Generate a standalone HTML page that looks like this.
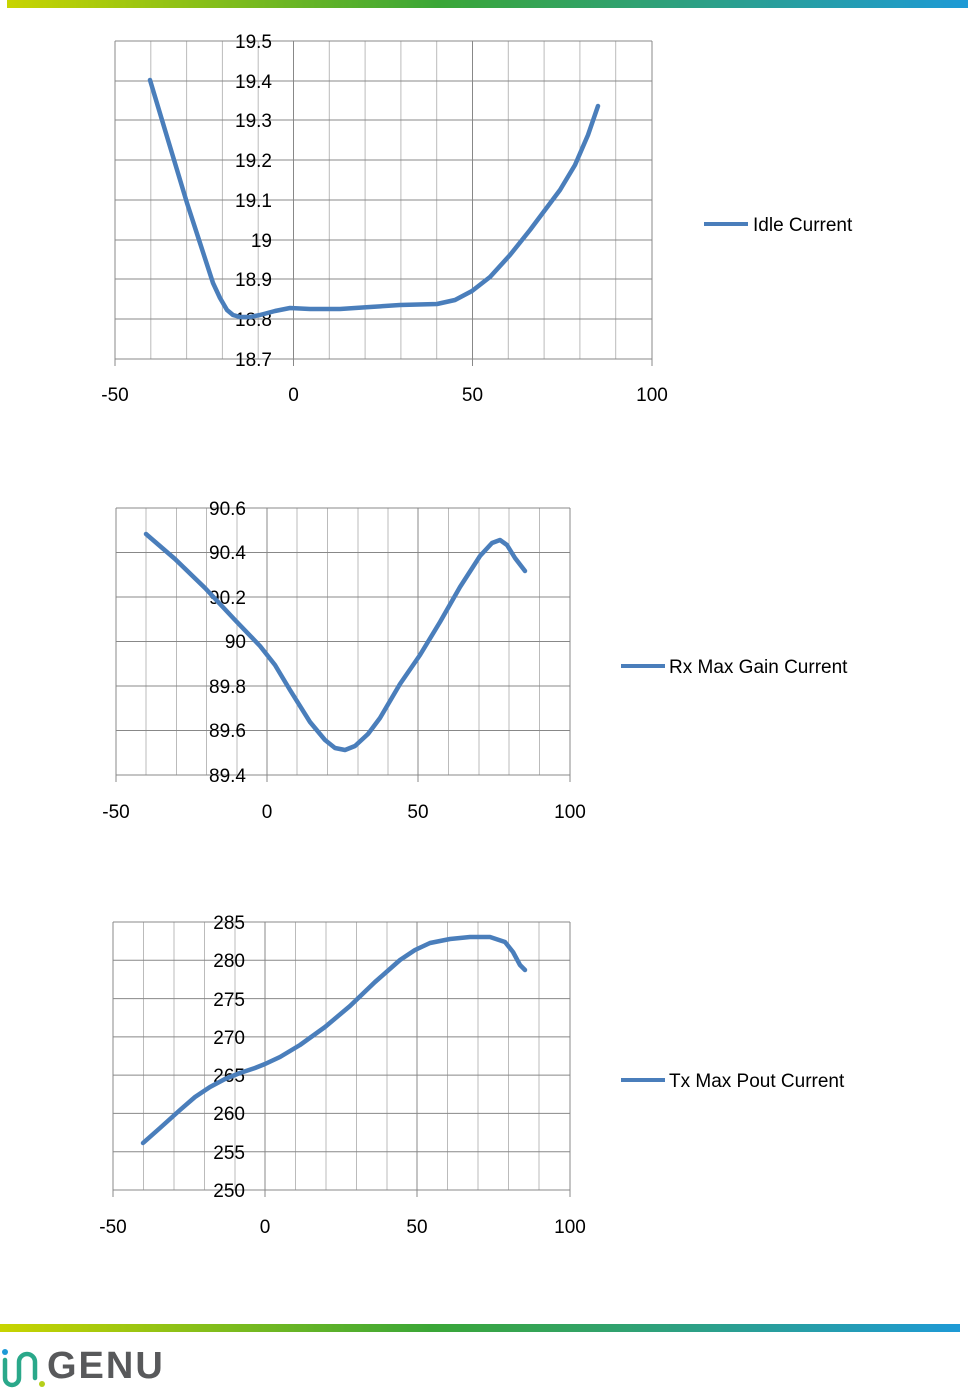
<!DOCTYPE html>
<html><head><meta charset="utf-8"><style>
html,body{margin:0;padding:0;background:#fff;width:973px;height:1388px;overflow:hidden}
svg{display:block}
text{font-family:"Liberation Sans",sans-serif;font-size:19px;fill:#000}
</style></head><body>
<svg width="973" height="1388" viewBox="0 0 973 1388">
<defs>
<linearGradient id="g" x1="0" x2="1" y1="0" y2="0">
<stop offset="0" stop-color="#c8d400"/><stop offset="0.45" stop-color="#3aa637"/><stop offset="1" stop-color="#1e9ad6"/>
</linearGradient>
<linearGradient id="g2" x1="0" x2="1" y1="0" y2="0">
<stop offset="0" stop-color="#c8d400"/><stop offset="0.45" stop-color="#3aa637"/><stop offset="1" stop-color="#1e9ad6"/>
</linearGradient>
</defs>
<rect x="7" y="0" width="961" height="8" fill="url(#g)"/>
<rect x="0" y="1324" width="960" height="8" fill="url(#g2)"/>

<!-- Chart 1 -->
<g stroke="#bbb" stroke-width="1">
<line x1="150.8" y1="41" x2="150.8" y2="359"/><line x1="186.6" y1="41" x2="186.6" y2="359"/><line x1="222.4" y1="41" x2="222.4" y2="359"/><line x1="258.2" y1="41" x2="258.2" y2="359"/>
<line x1="329.3" y1="41" x2="329.3" y2="359"/><line x1="365.1" y1="41" x2="365.1" y2="359"/><line x1="400.9" y1="41" x2="400.9" y2="359"/><line x1="436.7" y1="41" x2="436.7" y2="359"/>
<line x1="508.3" y1="41" x2="508.3" y2="359"/><line x1="544.1" y1="41" x2="544.1" y2="359"/><line x1="579.9" y1="41" x2="579.9" y2="359"/><line x1="615.7" y1="41" x2="615.7" y2="359"/>
</g>
<g stroke="#888" stroke-width="1">
<line x1="115" y1="41" x2="652" y2="41"/><line x1="115" y1="81" x2="652" y2="81"/><line x1="115" y1="120" x2="652" y2="120"/><line x1="115" y1="160" x2="652" y2="160"/><line x1="115" y1="200" x2="652" y2="200"/><line x1="115" y1="240" x2="652" y2="240"/><line x1="115" y1="279" x2="652" y2="279"/><line x1="115" y1="319" x2="652" y2="319"/><line x1="115" y1="359" x2="652" y2="359"/>
<line x1="115" y1="41" x2="115" y2="366"/><line x1="293.5" y1="41" x2="293.5" y2="366"/><line x1="472.5" y1="41" x2="472.5" y2="366"/><line x1="652" y1="41" x2="652" y2="366"/>
</g>
<g text-anchor="end">
<text x="272" y="48">19.5</text><text x="272" y="88">19.4</text><text x="272" y="127">19.3</text><text x="272" y="167">19.2</text><text x="272" y="207">19.1</text><text x="272" y="247">19</text><text x="272" y="286">18.9</text><text x="272" y="326">18.8</text><text x="272" y="366">18.7</text>
</g>
<g text-anchor="middle"><text x="115" y="401">-50</text><text x="293.5" y="401">0</text><text x="472.5" y="401">50</text><text x="652" y="401">100</text></g>
<polyline fill="none" stroke="#4a7ebb" stroke-width="4.5" stroke-linejoin="round" stroke-linecap="round" points="150,80 165,130 187,203 200,243 213,283 220,298 227,310 233,315 240,317 250,317 260,315 275,311 290,308 310,309 340,309 370,307 400,305 437,304 455,300 472,291 490,277 510,255 530,230 545,210 560,190 575,165 588,135 598,106"/>
<line x1="704" y1="224" x2="748" y2="224" stroke="#4a7ebb" stroke-width="4"/>
<text x="753" y="231">Idle Current</text>

<!-- Chart 2 -->
<g stroke="#bbb" stroke-width="1">
<line x1="146" y1="508" x2="146" y2="775"/><line x1="176.5" y1="508" x2="176.5" y2="775"/><line x1="206.5" y1="508" x2="206.5" y2="775"/><line x1="237" y1="508" x2="237" y2="775"/>
<line x1="297" y1="508" x2="297" y2="775"/><line x1="327.5" y1="508" x2="327.5" y2="775"/><line x1="358" y1="508" x2="358" y2="775"/><line x1="388" y1="508" x2="388" y2="775"/>
<line x1="448.5" y1="508" x2="448.5" y2="775"/><line x1="479" y1="508" x2="479" y2="775"/><line x1="509" y1="508" x2="509" y2="775"/><line x1="539.5" y1="508" x2="539.5" y2="775"/>
</g>
<g stroke="#888" stroke-width="1">
<line x1="116" y1="508" x2="570" y2="508"/><line x1="116" y1="552.5" x2="570" y2="552.5"/><line x1="116" y1="597" x2="570" y2="597"/><line x1="116" y1="641.5" x2="570" y2="641.5"/><line x1="116" y1="686" x2="570" y2="686"/><line x1="116" y1="730.5" x2="570" y2="730.5"/><line x1="116" y1="775" x2="570" y2="775"/>
<line x1="116" y1="508" x2="116" y2="782"/><line x1="267" y1="508" x2="267" y2="782"/><line x1="418" y1="508" x2="418" y2="782"/><line x1="570" y1="508" x2="570" y2="782"/>
</g>
<g text-anchor="end">
<text x="246" y="515">90.6</text><text x="246" y="559">90.4</text><text x="246" y="604">90.2</text><text x="246" y="648">90</text><text x="246" y="693">89.8</text><text x="246" y="737">89.6</text><text x="246" y="782">89.4</text>
</g>
<g text-anchor="middle"><text x="116" y="818">-50</text><text x="267" y="818">0</text><text x="418" y="818">50</text><text x="570" y="818">100</text></g>
<polyline fill="none" stroke="#4a7ebb" stroke-width="4.5" stroke-linejoin="round" stroke-linecap="round" points="146,534 175,559 205,588 235,620 260,646 275,665 290,690 310,722 325,740 335,748 345,750 355,746 368,734 380,718 400,684 420,655 440,622 460,587 480,556 492,543 500,540 507,545 515,558 525,571"/>
<line x1="621" y1="666" x2="665" y2="666" stroke="#4a7ebb" stroke-width="4"/>
<text x="669" y="673">Rx Max Gain Current</text>

<!-- Chart 3 -->
<g stroke="#bbb" stroke-width="1">
<line x1="143.5" y1="922" x2="143.5" y2="1190"/><line x1="174" y1="922" x2="174" y2="1190"/><line x1="204.5" y1="922" x2="204.5" y2="1190"/><line x1="235" y1="922" x2="235" y2="1190"/>
<line x1="295.5" y1="922" x2="295.5" y2="1190"/><line x1="326" y1="922" x2="326" y2="1190"/><line x1="356.5" y1="922" x2="356.5" y2="1190"/><line x1="387" y1="922" x2="387" y2="1190"/>
<line x1="447.5" y1="922" x2="447.5" y2="1190"/><line x1="478" y1="922" x2="478" y2="1190"/><line x1="508.5" y1="922" x2="508.5" y2="1190"/><line x1="539" y1="922" x2="539" y2="1190"/>
</g>
<g stroke="#888" stroke-width="1">
<line x1="113" y1="922" x2="570" y2="922"/><line x1="113" y1="960.3" x2="570" y2="960.3"/><line x1="113" y1="998.6" x2="570" y2="998.6"/><line x1="113" y1="1036.9" x2="570" y2="1036.9"/><line x1="113" y1="1075.1" x2="570" y2="1075.1"/><line x1="113" y1="1113.4" x2="570" y2="1113.4"/><line x1="113" y1="1151.7" x2="570" y2="1151.7"/><line x1="113" y1="1190" x2="570" y2="1190"/>
<line x1="113" y1="922" x2="113" y2="1197"/><line x1="265" y1="922" x2="265" y2="1197"/><line x1="417" y1="922" x2="417" y2="1197"/><line x1="570" y1="922" x2="570" y2="1197"/>
</g>
<g text-anchor="end">
<text x="245" y="929">285</text><text x="245" y="967">280</text><text x="245" y="1006">275</text><text x="245" y="1044">270</text><text x="245" y="1082">265</text><text x="245" y="1120">260</text><text x="245" y="1159">255</text><text x="245" y="1197">250</text>
</g>
<g text-anchor="middle"><text x="113" y="1233">-50</text><text x="265" y="1233">0</text><text x="417" y="1233">50</text><text x="570" y="1233">100</text></g>
<polyline fill="none" stroke="#4a7ebb" stroke-width="4.5" stroke-linejoin="round" stroke-linecap="round" points="143,1143 160,1128 180,1110 195,1097 210,1087 225,1079 240,1073 255,1068 265,1064 280,1057 300,1045 325,1027 350,1006 375,982 400,960 415,950 430,943 450,939 470,937 490,937 505,942 513,952 520,965 525,970"/>
<line x1="621" y1="1080" x2="665" y2="1080" stroke="#4a7ebb" stroke-width="4"/>
<text x="669" y="1087">Tx Max Pout Current</text>

<!-- Logo -->
<circle cx="5" cy="1352" r="3" fill="#1e9ad6"/>
<path d="M5,1360 V1378 A7,7 0 0 0 19,1378 V1362 A8,8 0 0 1 35,1362 V1378" fill="none" stroke="#2aa88a" stroke-width="4.5" stroke-linecap="round"/>
<circle cx="42" cy="1384" r="3" fill="#b5cf1a"/>
<text x="47" y="1378" style="font-size:38px;font-weight:bold;fill:#58595b;font-family:'Liberation Sans',sans-serif;letter-spacing:2px">GENU</text>
</svg>
</body></html>
